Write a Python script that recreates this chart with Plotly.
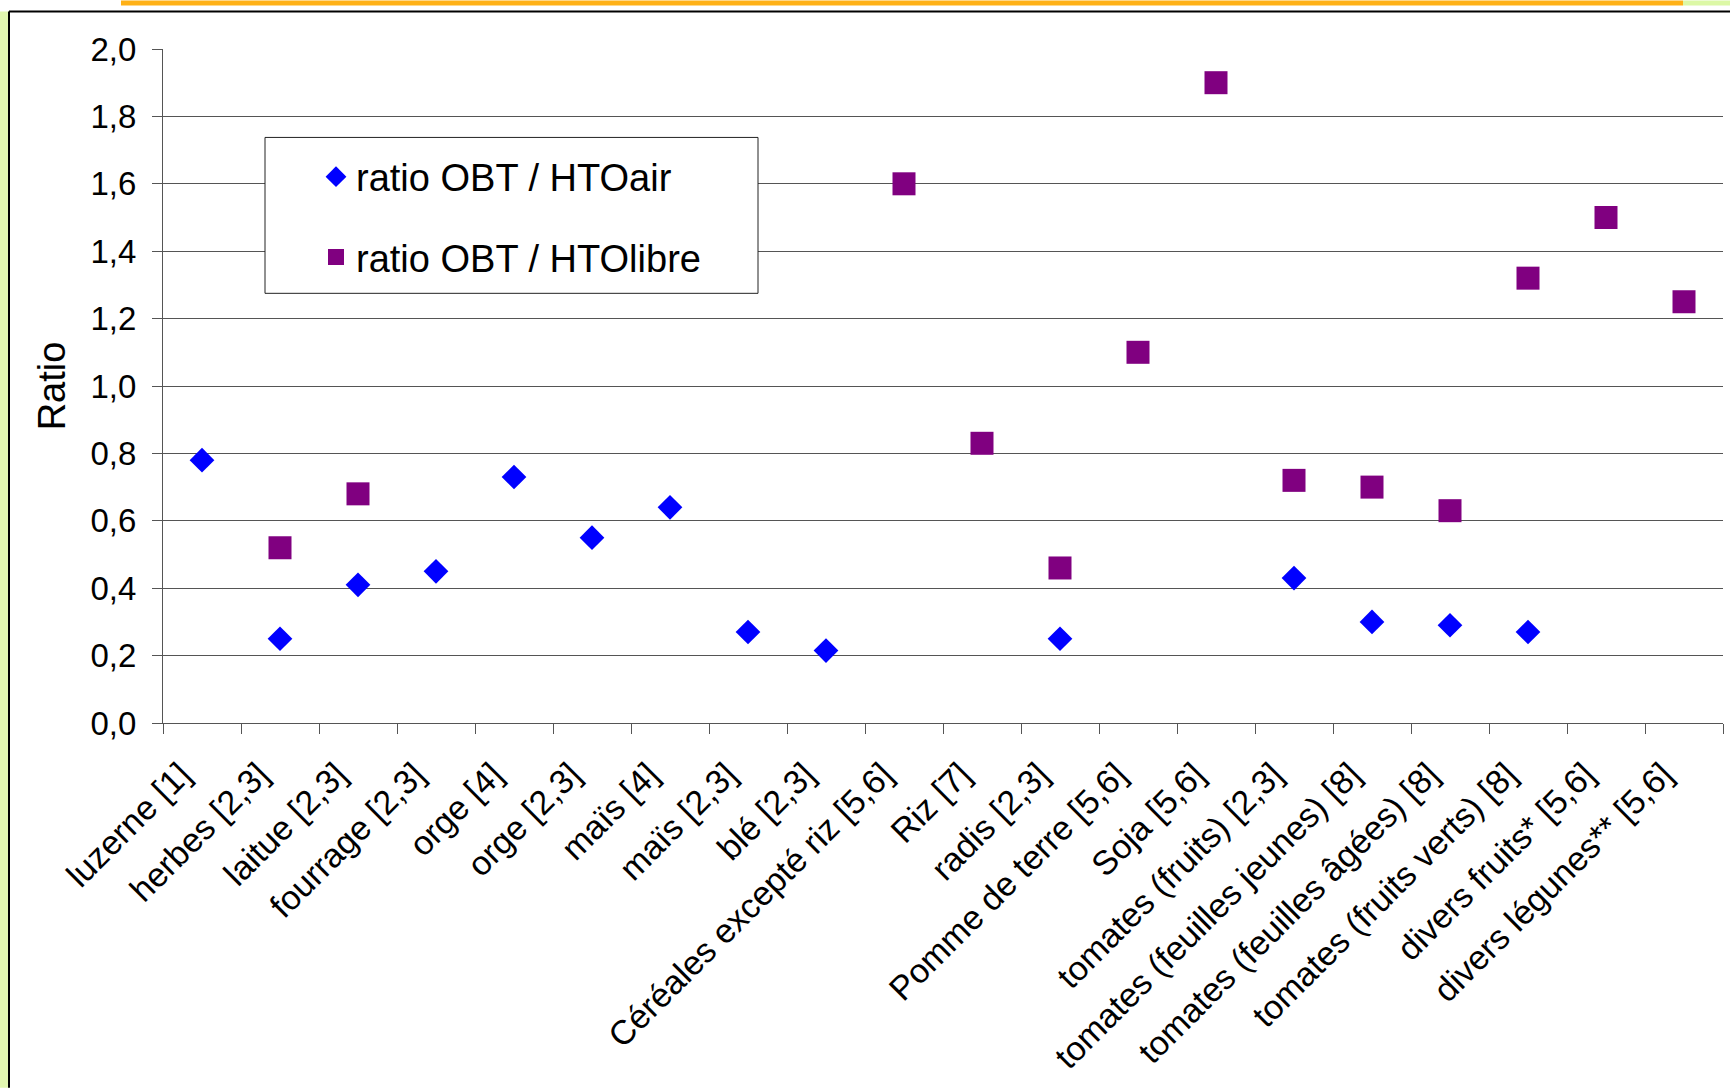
import plotly.graph_objects as go

categories = ["luzerne [1]", "herbes [2,3]", "laitue [2,3]", "fourrage [2,3]", "orge [4]",
              "orge [2,3]", "maïs [4]", "maïs [2,3]", "blé [2,3]", "Céréales excepté riz [5,6]",
              "Riz [7]", "radis [2,3]", "Pomme de terre [5,6]", "Soja [5,6]",
              "tomates (fruits) [2,3]", "tomates (feuilles jeunes) [8]",
              "tomates (feuilles âgées) [8]", "tomates (fruits verts) [8]",
              "divers fruits* [5,6]", "divers légunes** [5,6]"]

ratio_htoair = [0.78, 0.25, 0.41, 0.45, 0.73, 0.55, 0.64, 0.27, 0.215, None,
                None, 0.25, None, None, 0.43, 0.30, 0.29, 0.27, None, None]

ratio_htolibre = [None, 0.52, 0.68, None, None, None, None, None, None, 1.60,
                  0.83, 0.46, 1.10, 1.90, 0.72, 0.70, 0.63, 1.32, 1.50, 1.25]

y_ticks = [0.0, 0.2, 0.4, 0.6, 0.8, 1.0, 1.2, 1.4, 1.6, 1.8, 2.0]

W, H = 1730, 1088
L, R, T, B = 163, 1723, 48.5, 723


def px(x):
    return (x - L) / (R - L)


def py(y):
    return (B - y) / (B - T)


fig = go.Figure()
fig.add_trace(go.Scatter(
    x=categories, y=ratio_htoair, mode="markers", name="ratio OBT / HTOair",
    legendgroup="a",
    marker=dict(symbol="diamond", size=19, color="#0000FF", line=dict(width=0)),
))
fig.add_trace(go.Scatter(
    x=categories, y=ratio_htolibre, mode="markers", name="ratio OBT / HTOlibre",
    legendgroup="b",
    marker=dict(symbol="square", size=23, color="#800080", line=dict(width=0)),
))

shapes = [
    # slide decorations
    dict(type="rect", xref="paper", yref="paper", x0=px(0), x1=px(9), y0=py(1088), y1=py(11),
         fillcolor="#e2f7b0", line=dict(width=0), layer="below"),
    dict(type="rect", xref="paper", yref="paper", x0=px(121), x1=px(1683), y0=py(5), y1=py(0),
         fillcolor="#FFB117", line=dict(width=0), layer="below"),
    dict(type="rect", xref="paper", yref="paper", x0=px(1683), x1=px(1730), y0=py(5), y1=py(0),
         fillcolor="#dcf8a6", line=dict(width=0), layer="below"),
    dict(type="line", xref="paper", yref="paper", x0=px(9), x1=px(1730), y0=py(11), y1=py(11),
         line=dict(color="black", width=2), layer="above"),
    dict(type="line", xref="paper", yref="paper", x0=px(9), x1=px(9), y0=py(11), y1=py(1088),
         line=dict(color="black", width=2), layer="above"),
    # legend box
    dict(type="rect", xref="paper", yref="paper", x0=px(265), x1=px(758), y0=py(293), y1=py(137),
         fillcolor="white", line=dict(color="#222", width=1), layer="above"),
]

fig.update_layout(
    width=W, height=H,
    margin=dict(l=L, r=W - R, t=T, b=H - B, pad=0),
    paper_bgcolor="white", plot_bgcolor="white",
    font=dict(family="Liberation Sans, Arial, sans-serif", color="black"),
    separators=", ",
    showlegend=True,
    legend=dict(
        x=px(316), y=py(145), xanchor="left", yanchor="top",
        bgcolor="rgba(0,0,0,0)", borderwidth=0,
        font=dict(size=38), tracegroupgap=28, traceorder="grouped",
    ),
    shapes=shapes,
)

fig.update_xaxes(
    type="category", categoryorder="array", categoryarray=categories,
    range=[-0.5, len(categories) - 0.5],
    tickson="boundaries", ticks="outside", ticklen=10, tickcolor="#555", tickwidth=1,
    showline=True, linecolor="#555", linewidth=1, showgrid=False,
    tickangle=-45, tickfont=dict(size=34), zeroline=False,
    ticklabelstandoff=17, ticklabelshift=-21,
)
fig.update_yaxes(
    range=[0, 2.0], tickvals=y_ticks, tickformat=".1f",
    ticks="outside", ticklen=10, tickcolor="#555",
    showline=True, linecolor="#555", linewidth=1,
    showgrid=True, gridcolor="#555", gridwidth=1, zeroline=False,
    tickfont=dict(size=33), ticklabelstandoff=9,
    title=dict(text="Ratio", font=dict(size=38), standoff=13),
)

fig.write_html("out.html", config={"displayModeBar": False},
               post_script="document.body.style.margin='0';")
